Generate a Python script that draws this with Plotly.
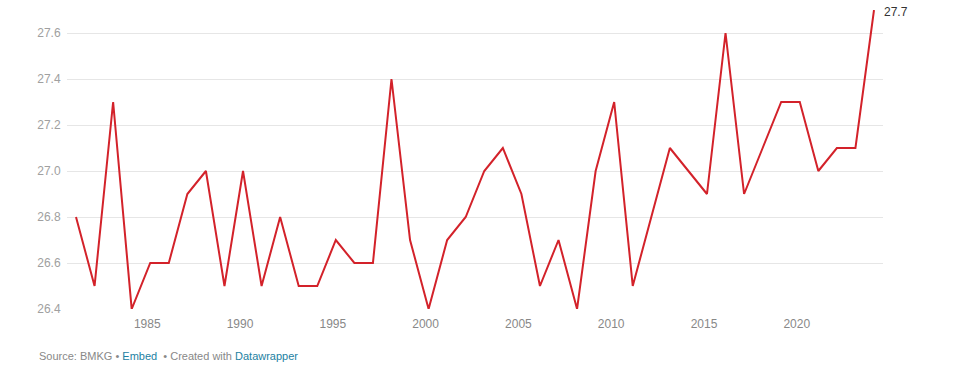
import plotly.graph_objects as go

years = list(range(1981, 2025))
temps = [26.8, 26.5, 27.3, 26.4, 26.6, 26.6, 26.9, 27.0, 26.5, 27.0,
         26.5, 26.8, 26.5, 26.5, 26.7, 26.6, 26.6, 27.4, 26.7, 26.4,
         26.7, 26.8, 27.0, 27.1, 26.9, 26.5, 26.7, 26.4, 27.0, 27.3,
         26.5, 26.8, 27.1, 27.0, 26.9, 27.6, 26.9, 27.1, 27.3, 27.3,
         27.0, 27.1, 27.1, 27.7]
x_ticks = [1985, 1990, 1995, 2000, 2005, 2010, 2015, 2020]
y_ticks = [26.4, 26.6, 26.8, 27.0, 27.2, 27.4, 27.6]

FONT = "Liberation Sans, Arial, sans-serif"

fig = go.Figure()
fig.add_trace(go.Scatter(
    x=years, y=temps, mode="lines",
    line=dict(color="#d3222a", width=2),
    showlegend=False,
))

fig.add_annotation(
    x=years[-1], y=temps[-1], text=f"{temps[-1]:.1f}",
    showarrow=False, xanchor="left", yanchor="middle", xshift=8, yshift=-2,
    font=dict(family=FONT, size=12, color="#333333"),
)

fig.add_annotation(
    xref="paper", yref="paper", x=-0.0368, y=-0.157,
    xanchor="left", yanchor="middle", showarrow=False,
    text=("<span style='color:#888888'>Source: BMKG • </span>"
          "<span style='color:#1d81a2'>Embed</span>"
          "<span style='color:#888888'>  • Created with </span>"
          "<span style='color:#1d81a2'>Datawrapper</span>"),
    font=dict(family=FONT, size=11, color="#888888"),
)

fig.update_layout(
    width=959, height=382,
    margin=dict(l=67, r=76, t=10, b=73),
    paper_bgcolor="white", plot_bgcolor="white",
    hovermode=False,
    font=dict(family=FONT, size=12),
    xaxis=dict(
        range=[1980.515, 2024.485], tickvals=x_ticks,
        showgrid=False, zeroline=False, showline=False,
        ticks="outside", ticklen=4, tickcolor="rgba(0,0,0,0)",
        ticklabelshift=-3,
        tickfont=dict(family=FONT, size=12, color="#888888"),
    ),
    yaxis=dict(
        range=[26.4, 27.7], tickvals=y_ticks, tickformat=".1f",
        showgrid=True, gridcolor="#e6e6e6", gridwidth=1,
        zeroline=False, showline=False,
        ticks="outside", ticklen=3, tickcolor="rgba(0,0,0,0)",
        tickfont=dict(family=FONT, size=12, color="#a0a0a0"),
    ),
)

fig.write_html(
    "out.html",
    config={"displayModeBar": False, "staticPlot": True},
    post_script="document.body.style.margin='0';document.body.style.overflow='hidden';",
)
